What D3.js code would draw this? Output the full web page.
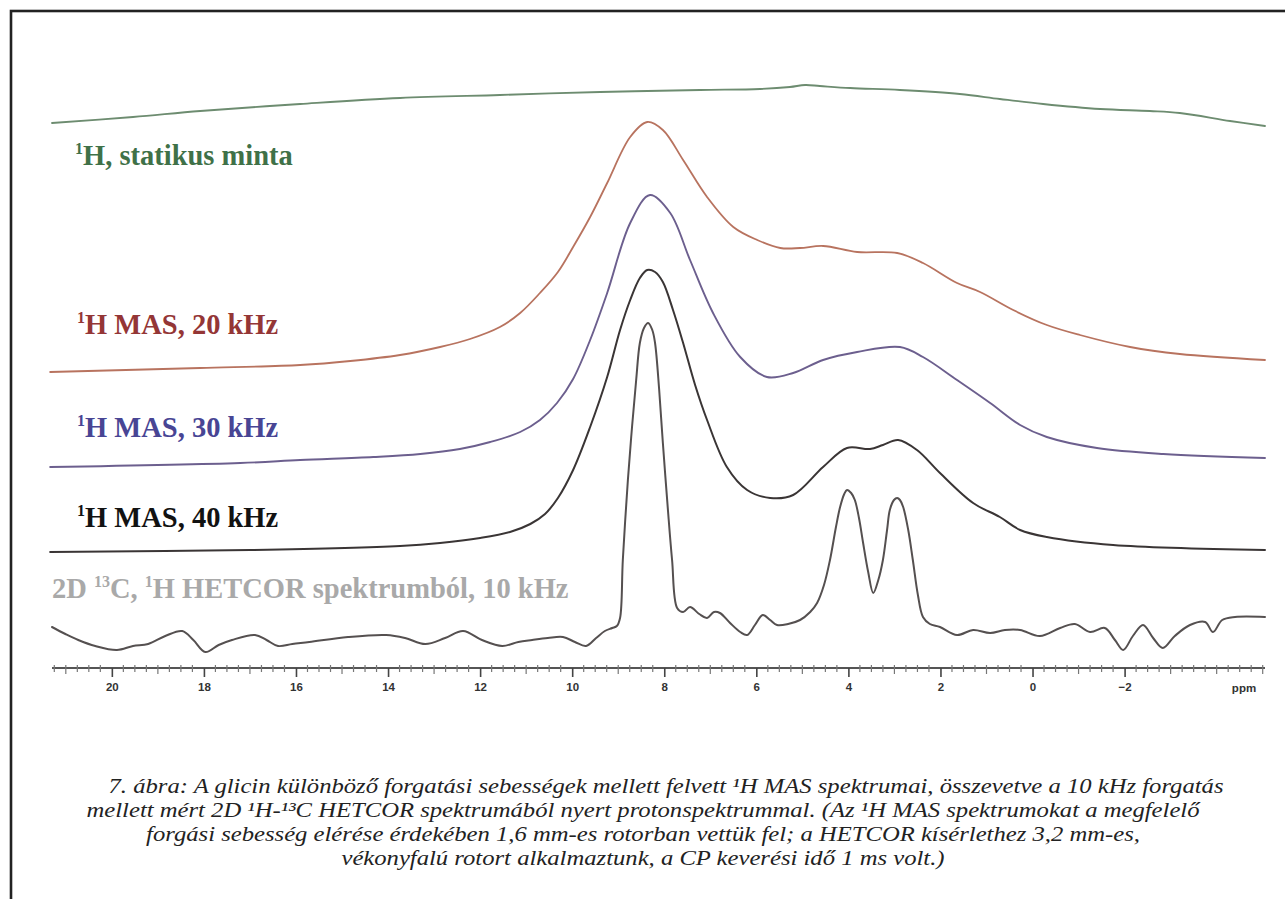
<!DOCTYPE html>
<html>
<head>
<meta charset="utf-8">
<script src="https://cdn.jsdelivr.net/npm/d3@7/dist/d3.min.js"></script>
<style>
  html, body { margin: 0; padding: 0; background: #ffffff; }
  svg { display: block; }
</style>
</head>
<body>
<svg id="chart" width="1285" height="899"></svg>
<script>
// ---- chemical shift axis ----
const axisDomain = [21.3, -5.05];
const majorTicks = [20, 18, 16, 14, 12, 10, 8, 6, 4, 2, 0, -2];
const axisUnit = "ppm";

// ---- 1H static sample ----
const staticPpm = [21.30, 19.54, 18.08, 15.91, 13.74, 11.57, 9.39, 7.22, 5.92, 5.27, 4.94, 4.62, 3.96, 2.88, 1.58, 0.71, -0.23, -1.47, -2.55, -3.20, -4.29, -5.05];
const staticInt = [7, 13, 19, 26, 32, 35, 38, 40, 41, 43, 45, 44, 42, 40, 36, 31, 26, 21, 19, 17, 9, 4];

// ---- 1H MAS, 20 kHz ----
const mas20Ppm = [21.34, 18.08, 15.91, 14.82, 13.74, 12.87, 12.22, 11.57, 11.13, 10.70, 10.31, 9.98, 9.61, 9.24, 8.74, 8.37, 8.03, 7.59, 7.07, 6.50, 5.98, 5.48, 5.05, 4.55, 3.81, 2.94, 2.38, 1.64, 1.14, 0.42, -0.31, -1.03, -2.12, -3.20, -5.05];
const mas20Int = [0, 4, 7, 11, 17, 25, 33, 45, 59, 79, 100, 125, 155, 189, 235, 250, 242, 212, 175, 145, 132, 124, 124, 126, 120, 119, 109, 89, 80, 62, 47, 37, 25, 18, 12];

// ---- 1H MAS, 30 kHz ----
const mas30Ppm = [21.34, 17.21, 15.91, 14.32, 13.30, 12.44, 11.78, 11.13, 10.70, 10.33, 9.98, 9.61, 9.24, 8.74, 8.31, 7.87, 7.44, 6.94, 6.35, 5.77, 5.20, 4.55, 3.81, 2.88, 2.38, 1.64, 0.92, 0.27, -0.31, -1.40, -2.84, -5.05];
const mas30Int = [0, 4, 7, 10, 13, 18, 25, 35, 47, 64, 88, 127, 174, 244, 272, 254, 207, 154, 110, 90, 94, 107, 115, 120, 110, 87, 64, 42, 30, 19, 13, 9];

// ---- 1H MAS, 40 kHz ----
const mas40Ppm = [21.34, 17.00, 13.74, 12.87, 12.00, 11.35, 10.91, 10.59, 10.31, 9.98, 9.61, 9.24, 8.96, 8.74, 8.53, 8.37, 8.20, 8.03, 7.81, 7.59, 7.33, 7.07, 6.64, 6.20, 5.70, 5.20, 4.55, 4.03, 3.53, 3.25, 2.92, 2.51, 2.01, 1.29, 0.71, 0.27, -0.31, -1.75, -5.05];
const mas40Int = [0, 2, 6, 9, 14, 20, 28, 38, 54, 82, 125, 175, 222, 252, 274, 282, 280, 270, 242, 209, 167, 132, 85, 62, 54, 57, 85, 104, 103, 107, 112, 102, 79, 49, 35, 22, 15, 7, 2];

// ---- 1H projection of the 2D 13C,1H HETCOR spectrum, 10 kHz ----
const hetcorPpm = [21.30, 21.01, 20.73, 20.36, 19.89, 19.54, 19.21, 18.84, 18.47, 18.23, 17.97, 17.68, 17.39, 16.89, 16.64, 16.39, 16.08, 15.71, 14.87, 14.04, 13.63, 13.19, 12.76, 12.37, 11.96, 11.52, 11.17, 10.87, 10.53, 10.20, 9.94, 9.70, 9.48, 9.29, 9.13, 9.03, 8.96, 8.90, 8.79, 8.70, 8.61, 8.53, 8.44, 8.35, 8.26, 8.20, 8.11, 8.03, 7.92, 7.83, 7.72, 7.59, 7.44, 7.24, 7.07, 6.92, 6.79, 6.57, 6.35, 6.20, 6.03, 5.86, 5.70, 5.55, 5.31, 5.05, 4.83, 4.68, 4.53, 4.40, 4.27, 4.18, 4.09, 4.03, 3.94, 3.86, 3.77, 3.68, 3.57, 3.46, 3.35, 3.25, 3.16, 3.10, 3.01, 2.94, 2.88, 2.81, 2.70, 2.60, 2.49, 2.38, 2.23, 2.01, 1.64, 1.29, 0.92, 0.60, 0.27, -0.16, -0.60, -0.92, -1.25, -1.57, -1.79, -1.97, -2.18, -2.40, -2.62, -2.83, -3.09, -3.42, -3.75, -3.92, -4.12, -4.40, -5.05];
const hetcorInt = [13, 6, 0, -6, -10, -6, -4, 4, 9, 0, -12, -5, 0, 5, 0, -6, -4, -2, 3, 5, 2, -4, 2, 9, 0, -6, -2, 0, 2, 3, -2, -6, 2, 9, 12, 14, 22, 80, 160, 213, 260, 297, 312, 317, 310, 297, 250, 197, 130, 80, 32, 28, 33, 26, 22, 28, 27, 17, 8, 5, 15, 25, 20, 15, 16, 20, 28, 37, 55, 80, 113, 133, 146, 150, 147, 140, 122, 97, 68, 47, 60, 80, 110, 130, 140, 142, 140, 133, 110, 80, 45, 23, 16, 13, 5, 10, 7, 10, 10, 4, 12, 16, 8, 12, 0, -10, 4, 15, 2, -8, 4, 15, 18, 8, 20, 23, 23];

// ---- figure caption ----
const captionLines = [
  "7. ábra: A glicin különböző forgatási sebességek mellett felvett ¹H MAS spektrumai, összevetve a 10 kHz forgatás",
  "mellett mért 2D ¹H-¹³C HETCOR spektrumából nyert protonspektrummal. (Az ¹H MAS spektrumokat a megfelelő",
  "forgási sebesség elérése érdekében 1,6 mm-es rotorban vettük fel; a HETCOR kísérlethez 3,2 mm-es,",
  "vékonyfalú rotort alkalmaztunk, a CP keverési idő 1 ms volt.)"
];

// ---------------------------------------------------------------
const svg = d3.select("#chart");

// outer frame (open to the right and bottom edges of the page)
svg.append("rect")
  .attr("x", 11).attr("y", 11)
  .attr("width", 1400).attr("height", 1000)
  .attr("fill", "#ffffff")
  .attr("stroke", "#222222").attr("stroke-width", 2.6);

const x = d3.scaleLinear().domain(axisDomain).range([52, 1265]);

// stacked spectra: each trace has its own baseline
const traces = [
  { ppm: staticPpm, val: staticInt, base: 130, stroke: "#6d8c70", width: 1.8,
    label: "H, statikus minta", sup: "1", lx: 75, ly: 165, color: "#3f7148" },
  { ppm: mas20Ppm, val: mas20Int, base: 372, stroke: "#b8735f", width: 1.8,
    label: "H MAS, 20 kHz", sup: "1", lx: 77, ly: 334, color: "#943636" },
  { ppm: mas30Ppm, val: mas30Int, base: 467, stroke: "#6c5f8e", width: 1.9,
    label: "H MAS, 30 kHz", sup: "1", lx: 77, ly: 437, color: "#484594" },
  { ppm: mas40Ppm, val: mas40Int, base: 552, stroke: "#3a3535", width: 2.0,
    label: "H MAS, 40 kHz", sup: "1", lx: 77, ly: 527, color: "#121212" },
  { ppm: hetcorPpm, val: hetcorInt, base: 640, stroke: "#555050", width: 2.0,
    label: null, lx: 52, ly: 598, color: "#a9a9a9" }
];

traces.forEach(t => {
  const y = d3.scaleLinear().domain([0, 300]).range([t.base, t.base - 300]);
  const pts = t.ppm.map((p, i) => [p, t.val[i]]);
  const line = d3.line()
    .x(d => x(d[0]))
    .y(d => y(d[1]))
    .curve(d3.curveCatmullRom.alpha(0.5));
  svg.append("path")
    .datum(pts)
    .attr("d", line)
    .attr("fill", "none")
    .attr("stroke", t.stroke)
    .attr("stroke-width", t.width)
    .attr("stroke-linejoin", "round")
    .attr("stroke-linecap", "round");
});

// trace labels
const labelFont = "'Liberation Serif', 'Times New Roman', serif";
traces.forEach(t => {
  const txt = svg.append("text")
    .attr("x", t.lx).attr("y", t.ly)
    .attr("font-family", labelFont)
    .attr("font-weight", "bold")
    .attr("font-size", 28.5)
    .attr("fill", t.color);
  if (t.label) {
    txt.append("tspan").attr("font-size", 16).attr("dy", -11).text(t.sup);
    txt.append("tspan").attr("dy", 11).text(t.label);
  } else {
    txt.append("tspan").text("2D ");
    txt.append("tspan").attr("font-size", 16).attr("dy", -11).text("13");
    txt.append("tspan").attr("dy", 11).text("C, ");
    txt.append("tspan").attr("font-size", 16).attr("dy", -11).text("1");
    txt.append("tspan").attr("dy", 11).text("H HETCOR spektrumból, 10 kHz");
  }
});

// ppm axis
const axisY = 668;
const gAxis = svg.append("g").attr("transform", `translate(0,${axisY})`);
gAxis.append("line")
  .attr("x1", 52).attr("x2", 1265)
  .attr("stroke", "#555555").attr("stroke-width", 2);

const minorTicks = d3.range(-5.0, 21.3 + 1e-9, 0.25).filter(v => !majorTicks.includes(v));
gAxis.selectAll("line.minor")
  .data(minorTicks)
  .join("line")
  .attr("class", "minor")
  .attr("x1", d => x(d)).attr("x2", d => x(d))
  .attr("y1", -3).attr("y2", d => Number.isInteger(d) ? 6 : 4)
  .attr("stroke", "#777777").attr("stroke-width", 1.2);

const major = d3.axisBottom(x).tickValues(majorTicks).tickSize(9).tickPadding(6)
  .tickFormat(d3.format("d"));
const gMajor = gAxis.append("g").call(major);
gMajor.select(".domain").remove();
gMajor.selectAll(".tick line").attr("stroke", "#444444").attr("stroke-width", 1.6);
gMajor.selectAll(".tick text")
  .attr("font-family", "'Liberation Sans', Arial, sans-serif")
  .attr("font-weight", "bold")
  .attr("font-size", 11.5)
  .attr("fill", "#333333");

gAxis.append("text")
  .attr("x", 1244).attr("y", 24)
  .attr("text-anchor", "middle")
  .attr("font-family", "'Liberation Sans', Arial, sans-serif")
  .attr("font-weight", "bold")
  .attr("font-size", 11.5)
  .attr("fill", "#333333")
  .text(axisUnit);

// caption: 20.5px italic, each line widened by one common factor so the first spans ~1115 px
const capCenters = [666, 643, 643, 643];
const caption = svg.selectAll("text.caption")
  .data(captionLines)
  .join("text")
  .attr("class", "caption")
  .attr("x", (d, i) => capCenters[i])
  .attr("y", (d, i) => 793 + i * 24)
  .attr("text-anchor", "middle")
  .attr("font-family", "'Liberation Serif', serif")
  .attr("font-style", "italic")
  .attr("font-size", 20.5)
  .attr("fill", "#222222")
  .text(d => d);
const lens = caption.nodes().map(n => n.getComputedTextLength());
const widen = 1115 / lens[0];
caption
  .attr("textLength", (d, i) => (lens[i] * widen).toFixed(1))
  .attr("lengthAdjust", "spacingAndGlyphs");
</script>
</body>
</html>
